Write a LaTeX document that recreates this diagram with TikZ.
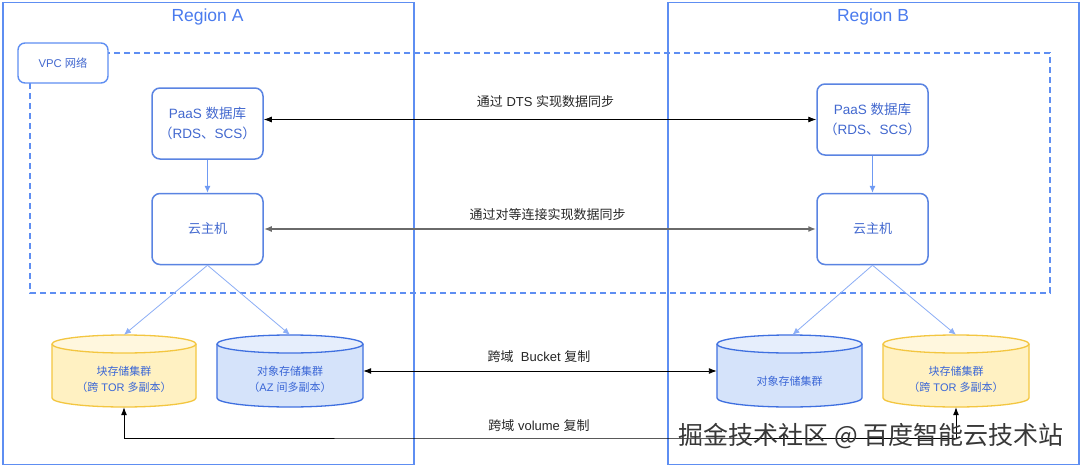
\documentclass[tikz,border=0pt]{standalone}
\usepackage{fontspec}
\setmainfont{Liberation Sans}
\newfontfamily\cjk{Noto Sans CJK SC}
\usetikzlibrary{arrows.meta,calc}
\definecolor{regblue}{HTML}{5E8EF2}
\definecolor{titleblue}{HTML}{4A7BEE}
\definecolor{boxblue}{HTML}{5A84E2}
\definecolor{txtblue}{HTML}{4268CF}
\definecolor{lineblue}{HTML}{8CAEF6}
\definecolor{arrblue}{HTML}{6F9AF3}
\definecolor{yelfill}{HTML}{FFF1C2}
\definecolor{yeltop}{HTML}{FFF7DE}
\definecolor{yeldraw}{HTML}{F3C640}
\definecolor{blufill}{HTML}{D5E3FA}
\definecolor{blutop}{HTML}{E6EEFC}
\definecolor{bludraw}{HTML}{3F70E0}
\definecolor{peergray}{HTML}{6A6A6A}
\definecolor{cyltxt}{HTML}{3A66D6}
\newcommand\zh[1]{{\cjk #1}}
\tikzset{
  regionbox/.style={draw=regblue, line width=1.6pt, inner sep=0, anchor=north west},
  regtitle/.style={text=titleblue, font=\fontsize{17.5}{20}\selectfont},
  vpcline/.style={draw=regblue, line width=1.6pt, dash pattern=on 6pt off 4pt},
  vpclabel/.style={draw=regblue, fill=white, line width=1.4pt, rounded corners=7pt, minimum width=90pt, minimum height=40pt, inner sep=0, text=txtblue, font=\fontsize{11.3}{14}\selectfont},
  rbox/.style={draw=boxblue, fill=white, line width=1.5pt, rounded corners=8pt, minimum width=111pt, minimum height=71pt, inner sep=0, align=center, text=txtblue, font=\fontsize{13.5}{20}\selectfont},
  cylbox/.style={inner sep=0, minimum height=72pt},
  cyltext/.style={align=center, text=cyltxt, font=\fontsize{11}{15.5}\selectfont},
  lbl/.style={text=black!85, font=\fontsize{13}{15}\selectfont},
  dblarrow/.style={draw=black, line width=0.9pt, {Latex[length=8pt,width=6pt]}-{Latex[length=8pt,width=6pt]}},
  peerarrow/.style={draw=peergray, line width=1.8pt, {Latex[length=8pt,width=6pt]}-{Latex[length=8pt,width=6pt]}},
  bluearrow/.style={draw=arrblue, line width=0.9pt, -{Latex[length=7pt,width=6pt]}},
  thinblue/.style={draw=lineblue, line width=0.8pt, -{Latex[length=7pt,width=6pt]}},
  watermark/.style={text=black!78, font=\cjk\fontsize{25}{28}\selectfont},
}
% #1 name, #2 cx, #3 half width, #4 colour prefix
\newcommand\mycyl[4]{%
  \fill[#4fill] (#2-#3,344) -- (#2-#3,398) arc[start angle=180,end angle=0,x radius=#3,y radius=9] -- (#2+#3,344) -- cycle;
  \draw[#4draw, line width=1.3pt] (#2-#3,344) -- (#2-#3,398) arc[start angle=180,end angle=0,x radius=#3,y radius=9] -- (#2+#3,344);
  \filldraw[fill=#4top, draw=#4draw, line width=1.3pt] (#2,344) ellipse [x radius=#3, y radius=9];
  \node[cylbox, minimum width=2*#3 pt] (#1) at (#2,371) {};
}
\begin{document}
\begin{tikzpicture}[x=1pt,y=-1pt]
\useasboundingbox (0,0) rectangle (1080,466);
\fill[white] (0,0) rectangle (1080,466);
% regions
\node[regionbox, minimum width=411pt, minimum height=462pt] (regA) at (2,1.5) {};
\node[regionbox, minimum width=411pt, minimum height=462pt] (regB) at (667,1.5) {};
\node[regtitle] (tA) at (207.5,17) {Region A};
\node[regtitle] (tB) at (873,17) {Region B};
% VPC
\draw[vpcline] (30,53) rectangle (1050,293);
\node[vpclabel] (vpc) at (63,63) {VPC \zh{网络}};
% boxes
\node[rbox] (paasA) at (207.5,123.5) {PaaS \zh{数据库}\\\zh{（}RDS\zh{、}SCS\zh{）}};
\node[rbox] (paasB) at (872.5,119.5) {PaaS \zh{数据库}\\\zh{（}RDS\zh{、}SCS\zh{）}};
\node[rbox, font=\fontsize{13}{16}\selectfont] (vmA) at (207.5,229) {\zh{云主机}};
\node[rbox, font=\fontsize{13}{16}\selectfont] (vmB) at (872.5,229) {\zh{云主机}};
% cylinders
\mycyl{blockA}{124}{72}{yel}
\mycyl{objA}{290}{73}{blu}
\mycyl{objB}{789.5}{72.5}{blu}
\mycyl{blockB}{956}{73}{yel}
\node[cyltext] (blockAt) at (124,379.5) {\zh{块存储集群}\\\zh{（跨} TOR \zh{多副本）}};
\node[cyltext] (objAt) at (290,379.5) {\zh{对象存储集群}\\\zh{（}AZ \zh{间多副本）}};
\node[cyltext] (objBt) at (789.5,381) {\zh{对象存储集群}};
\node[cyltext] (blockBt) at (956,379.5) {\zh{块存储集群}\\\zh{（跨} TOR \zh{多副本）}};
% connectors
\draw[bluearrow] (paasA.south) -- (vmA.north);
\draw[bluearrow] (paasB.south) -- (vmB.north);
\draw[thinblue] (vmA.south) -- (blockA.north);
\draw[thinblue] (vmA.south) -- (objA.north);
\draw[thinblue] (vmB.south) -- ([xshift=3pt]objB.north);
\draw[thinblue] (vmB.south) -- (blockB.north);
\draw[dblarrow] (paasA.east |- paasB.west) -- (paasB.west);
\draw[peerarrow] (vmA.east) -- (vmB.west);
\draw[dblarrow] (objA.east) -- (objB.west);
\coordinate (vol) at (540,438);
\draw[dblarrow] (blockA.south) |- (vol) -| (blockB.south);
% labels
\node[lbl] (l1) at (545.5,102) {\zh{通过} DTS \zh{实现数据同步}};
\node[lbl] (l2) at (547.5,215) {\zh{通过对等连接实现数据同步}};
\node[lbl] (l3) at (539,357) {\zh{跨域}\ \ Bucket \zh{复制}};
\node[lbl] (l4) at (539,426) {\zh{跨域} volume \zh{复制}};
% watermark
\node[watermark] (wm) at (871,436) {掘金技术社区 @ 百度智能云技术站};
\end{tikzpicture}
\end{document}
